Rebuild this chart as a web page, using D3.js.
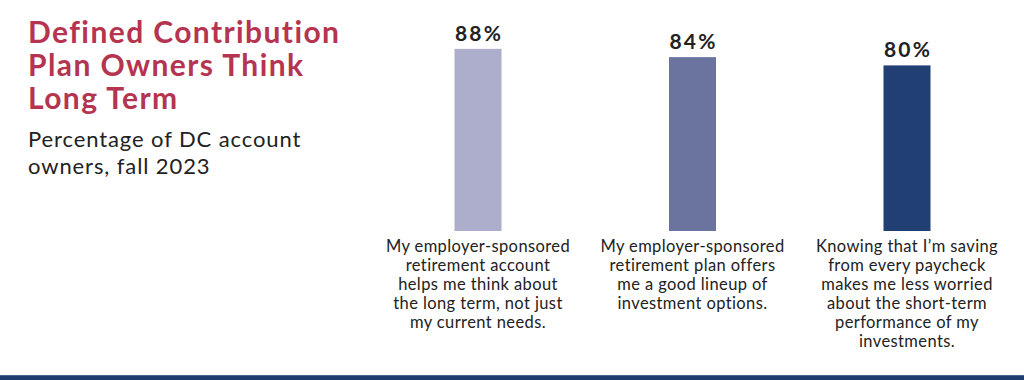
<!DOCTYPE html>
<html>
<head>
<meta charset="utf-8">
<script src="https://d3js.org/d3.v7.min.js"></script>
<style>
    body { margin: 0; background: #fff; }
    svg text { font-family: Lato, "Open Sans", sans-serif; }
</style>
</head>
<body>
<script type="text/javascript">

// chart data
var categories = [
    ["My employer-sponsored", "retirement account", "helps me think about", "the long term, not just", "my current needs."],
    ["My employer-sponsored", "retirement plan offers", "me a good lineup of", "investment options."],
    ["Knowing that I\u2019m saving", "from every paycheck", "makes me less worried", "about the short-term", "performance of my", "investments."]
];
var values = [88, 84, 80];
var valueLabels = ["88%", "84%", "80%"];
var barColors = ["#adadcc", "#6b739f", "#213f73"];

var titleLines = ["Defined Contribution", "Plan Owners Think", "Long Term"];
var subtitleLines = ["Percentage of DC account", "owners, fall 2023"];

var w = 1024, h = 380;

var svg = d3.select("body").append("svg")
    .attr("width", w)
    .attr("height", h);

// title block
svg.selectAll(".title")
    .data(titleLines)
    .enter().append("text")
    .attr("class", "title")
    .attr("x", 28)
    .attr("y", function(d, i) { return 43 + i * 33; })
    .attr("fill", "#b5344f")
    .attr("font-size", "30px")
    .attr("font-weight", "bold")
    .attr("letter-spacing", "1.4px")
    .text(function(d) { return d; });

svg.selectAll(".subtitle")
    .data(subtitleLines)
    .enter().append("text")
    .attr("class", "subtitle")
    .attr("x", 28)
    .attr("y", function(d, i) { return 147 + i * 27; })
    .attr("fill", "#222")
    .attr("font-size", "22px")
    .attr("letter-spacing", "0.9px")
    .text(function(d) { return d; });

// scales
var x = d3.scalePoint()
    .domain(d3.range(values.length))
    .range([478, 907]);

var y = d3.scaleLinear()
    .domain([0, 100])
    .range([231, 24]);

var barW = 47;

svg.selectAll(".bar")
    .data(values)
    .enter().append("rect")
    .attr("class", "bar")
    .attr("x", function(d, i) { return x(i) - barW / 2; })
    .attr("y", function(d) { return y(d); })
    .attr("width", barW)
    .attr("height", function(d) { return y(0) - y(d); })
    .attr("fill", function(d, i) { return barColors[i]; });

svg.selectAll(".val")
    .data(values)
    .enter().append("text")
    .attr("class", "val")
    .attr("x", function(d, i) { return x(i) + 1; })
    .attr("y", function(d) { return y(d) - 8; })
    .attr("text-anchor", "middle")
    .attr("fill", "#222")
    .attr("font-size", "21px")
    .attr("font-weight", "bold")
    .attr("letter-spacing", "2.2px")
    .text(function(d, i) { return valueLabels[i]; });

// category labels under bars
var cat = svg.selectAll(".cat")
    .data(categories)
    .enter().append("text")
    .attr("class", "cat")
    .attr("text-anchor", "middle")
    .attr("fill", "#222")
    .attr("font-size", "16.5px")
    .attr("letter-spacing", "0.4px");

cat.selectAll("tspan")
    .data(function(d, i) { return d.map(function(s) { return {s: s, i: i}; }); })
    .enter().append("tspan")
    .attr("x", function(d) { return x(d.i); })
    .attr("y", function(d, j) { return 252 + j * 19; })
    .text(function(d) { return d.s; });

// bottom band
svg.append("rect")
    .attr("x", 0).attr("y", 375)
    .attr("width", w).attr("height", 5)
    .attr("fill", "#1f3d6f");
svg.append("rect")
    .attr("x", 0).attr("y", 375)
    .attr("width", w).attr("height", 1)
    .attr("fill", "#4a6690");

</script>
</body>
</html>
